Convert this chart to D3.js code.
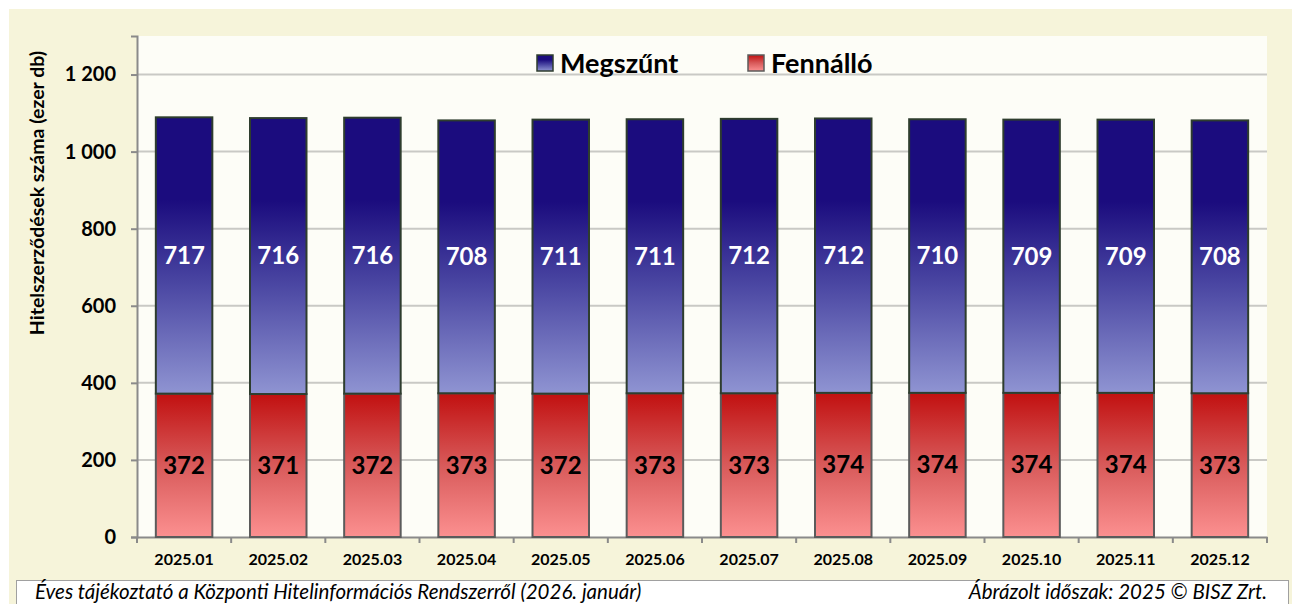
<!DOCTYPE html>
<html lang="hu">
<head>
<meta charset="utf-8">
<title>Hitelszerződések száma</title>
<script src="https://d3js.org/d3.v7.min.js"></script>
<style>
body { margin: 0; background: #fff; font-family: Lato, "Open Sans", sans-serif; }
</style>
</head>
<body>
<div id="vis"></div>
<script>

/* Data */
var months = ['2025.01','2025.02','2025.03','2025.04','2025.05','2025.06',
              '2025.07','2025.08','2025.09','2025.10','2025.11','2025.12'];
var fennallo = [372, 371, 372, 373, 372, 373, 373, 374, 374, 374, 374, 373];
var megszunt = [717, 716, 716, 708, 711, 711, 712, 712, 710, 709, 709, 708];
var yTicks = [0, 200, 400, 600, 800, 1000, 1200];

var W = 1292, H = 604;
var plot = { left: 137, right: 1267, top: 36, bottom: 537 };

var svg = d3.select('#vis').append('svg')
    .attr('width', W).attr('height', H);

var defs = svg.append('defs');

var gBlue = defs.append('linearGradient').attr('id', 'gBlue')
    .attr('x1', 0).attr('y1', 0).attr('x2', 0).attr('y2', 1);
gBlue.append('stop').attr('offset', '0%').attr('stop-color', '#1b0c7e');
gBlue.append('stop').attr('offset', '30%').attr('stop-color', '#1b0c7e');
gBlue.append('stop').attr('offset', '60%').attr('stop-color', '#4a46a2');
gBlue.append('stop').attr('offset', '100%').attr('stop-color', '#8f94d2');

var gRed = defs.append('linearGradient').attr('id', 'gRed')
    .attr('x1', 0).attr('y1', 0).attr('x2', 0).attr('y2', 1);
gRed.append('stop').attr('offset', '0%').attr('stop-color', '#c11010');
gRed.append('stop').attr('offset', '50%').attr('stop-color', '#d85a5a');
gRed.append('stop').attr('offset', '100%').attr('stop-color', '#fc9090');

// background panels
svg.append('rect').attr('x', 9).attr('y', 9).attr('width', W - 9).attr('height', H - 9)
    .attr('fill', '#f6f4da');
svg.append('rect').attr('x', plot.left).attr('y', plot.top)
    .attr('width', plot.right - plot.left).attr('height', plot.bottom - plot.top)
    .attr('fill', '#fdfdf7');

/* Scales */
var x = d3.scaleBand().domain(months).range([plot.left, plot.right]).paddingInner(0.4).paddingOuter(0.2);
var y = d3.scaleLinear().domain([0, 1300]).range([plot.bottom, plot.top]);

// gridlines
svg.append('g').selectAll('line').data(yTicks.slice(1)).join('line')
    .attr('x1', plot.left).attr('x2', plot.right)
    .attr('y1', d => y(d)).attr('y2', d => y(d))
    .attr('stroke', '#c9c9c5').attr('stroke-width', 2);

// y axis
var yAxis = svg.append('g').attr('transform', 'translate(' + plot.left + ',0)')
    .call(d3.axisLeft(y).tickValues(yTicks).tickSize(6).tickPadding(15)
        .tickFormat(d => d3.format(',')(d).replace(',', ' ')));
yAxis.select('.domain').attr('stroke', '#8a8a8a').attr('stroke-width', 2);
yAxis.selectAll('.tick line').attr('stroke', '#8a8a8a').attr('stroke-width', 2);
yAxis.selectAll('.tick text').attr('font-family', 'Lato, sans-serif')
    .attr('font-size', 20).attr('font-weight', 'bold').attr('fill', '#000')
    .style('white-space', 'pre');

// x axis
var xAxis = svg.append('g').attr('transform', 'translate(0,' + plot.bottom + ')')
    .call(d3.axisBottom(x).tickSize(0).tickPadding(17));
xAxis.select('.domain').attr('stroke', '#8a8a8a').attr('stroke-width', 2);
xAxis.selectAll('.tick text').attr('font-family', 'Lato, sans-serif')
    .attr('font-size', 16).attr('font-weight', 'bold').attr('fill', '#000');
var step = x.step();
xAxis.selectAll('line.sep').data(d3.range(months.length + 1)).join('line')
    .attr('class', 'sep')
    .attr('x1', i => plot.left + i * step).attr('x2', i => plot.left + i * step)
    .attr('y1', 0).attr('y2', 6)
    .attr('stroke', '#8a8a8a').attr('stroke-width', 2);

// bars
var bars = svg.append('g');
bars.selectAll('rect.red').data(months).join('rect')
    .attr('class', 'red')
    .attr('x', d => x(d)).attr('width', x.bandwidth())
    .attr('y', (d, i) => y(fennallo[i]))
    .attr('height', (d, i) => y(0) - y(fennallo[i]))
    .attr('fill', 'url(#gRed)').attr('stroke', '#5b5b5b').attr('stroke-width', 2);
bars.selectAll('rect.blue').data(months).join('rect')
    .attr('class', 'blue')
    .attr('x', d => x(d)).attr('width', x.bandwidth())
    .attr('y', (d, i) => y(fennallo[i] + megszunt[i]))
    .attr('height', (d, i) => y(fennallo[i]) - y(fennallo[i] + megszunt[i]))
    .attr('fill', 'url(#gBlue)').attr('stroke', '#2e3d2e').attr('stroke-width', 2);

// value labels
bars.selectAll('text.vb').data(months).join('text')
    .attr('class', 'vb')
    .attr('x', d => x(d) + x.bandwidth() / 2)
    .attr('y', (d, i) => y(fennallo[i] + megszunt[i] / 2))
    .attr('dy', '0.35em').attr('text-anchor', 'middle')
    .attr('font-size', 24).attr('font-weight', 'bold').attr('fill', '#fff')
    .text((d, i) => megszunt[i]);
bars.selectAll('text.vr').data(months).join('text')
    .attr('class', 'vr')
    .attr('x', d => x(d) + x.bandwidth() / 2)
    .attr('y', (d, i) => y(fennallo[i] / 2))
    .attr('dy', '0.35em').attr('text-anchor', 'middle')
    .attr('font-size', 24).attr('font-weight', 'bold').attr('fill', '#000')
    .text((d, i) => fennallo[i]);

// y title
svg.append('text')
    .attr('transform', 'translate(44,193) rotate(-90)')
    .attr('text-anchor', 'middle')
    .attr('font-size', 19.5).attr('font-weight', 'bold').attr('fill', '#000')
    .text('Hitelszerződések száma (ezer db)');

// legend
var legendItems = [
  { label: 'Megszűnt', fill: 'url(#gBlue)', stroke: '#2e3d2e', x: 537 },
  { label: 'Fennálló', fill: 'url(#gRed)', stroke: '#5b5b5b', x: 748 }
];
var lg = svg.append('g').selectAll('g').data(legendItems).join('g')
    .attr('transform', d => 'translate(' + d.x + ',55)');
lg.append('rect').attr('width', 16).attr('height', 16)
    .attr('fill', d => d.fill).attr('stroke', d => d.stroke).attr('stroke-width', 1.5);
lg.append('text').attr('x', 23).attr('y', 8).attr('dy', '0.36em')
    .attr('font-size', 27).attr('font-weight', 'bold').attr('fill', '#000')
    .text(d => d.label);

// footer
svg.append('rect').attr('x', 16.5).attr('y', 580.5).attr('width', 1272).attr('height', 30)
    .attr('fill', '#fff').attr('stroke', '#a0a0a0');
svg.append('text').attr('x', 35).attr('y', 599)
    .attr('font-size', 20.5).attr('font-style', 'italic').attr('fill', '#000')
    .text('Éves tájékoztató a Központi Hitelinformációs Rendszerről (2026. január)');
svg.append('text').attr('x', 1267).attr('y', 599).attr('text-anchor', 'end')
    .attr('font-size', 20.5).attr('font-style', 'italic').attr('fill', '#000')
    .text('Ábrázolt időszak: 2025 © BISZ Zrt.');

</script>
</body>
</html>
